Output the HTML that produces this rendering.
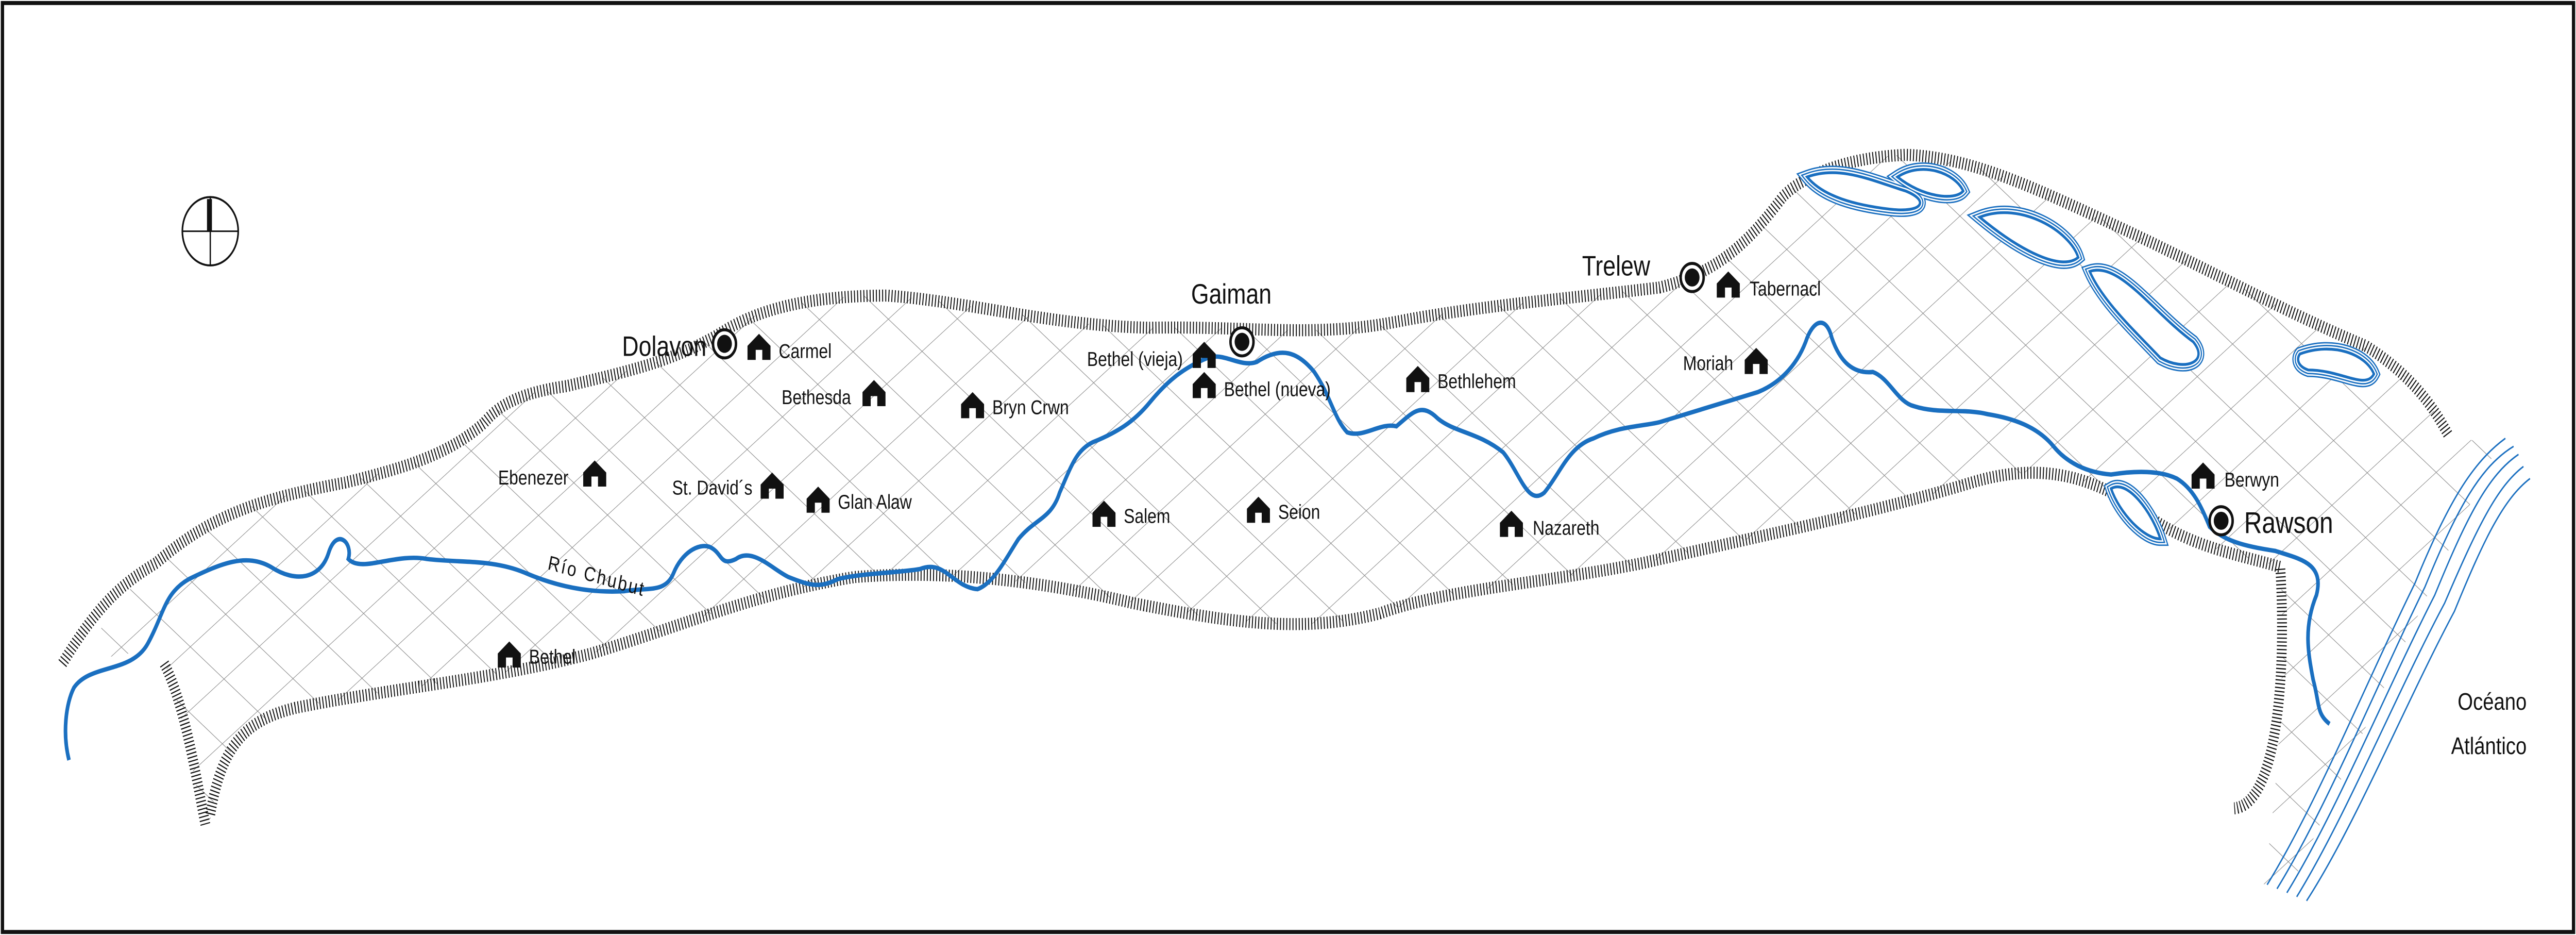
<!DOCTYPE html>
<html><head><meta charset="utf-8"><style>
html,body{margin:0;padding:0;background:#fff;width:100%;height:100%;overflow:hidden}
svg{display:block;position:absolute;left:0;top:0;width:100vw;height:100vh}
text{font-family:"Liberation Sans Narrow","Liberation Sans",sans-serif;fill:#111}
</style></head><body>
<svg viewBox="0 0 1568 465" preserveAspectRatio="none" xmlns="http://www.w3.org/2000/svg">
<defs>
<pattern id="grid" patternUnits="userSpaceOnUse" width="26" height="26" patternTransform="rotate(38) skewX(-15)">
<path d="M0 0H26M0 0V26" stroke="#8a8a8a" stroke-width="0.6" fill="none"/>
</pattern>
<path id="h" d="M-7 6V-1L0-7L7-1V6H2V1H-2V6Z" fill="#111"/>
<g id="lag">
<path d="M1100 88 C1120 82 1140 90 1160 95 C1175 100 1170 106 1150 104 C1130 102 1110 98 1100 88Z"/>
<path d="M1155 88 C1170 80 1190 86 1195 95 C1190 100 1170 98 1155 88Z"/>
<path d="M1205 108 C1230 100 1260 115 1265 128 C1255 135 1230 125 1205 108Z"/>
<path d="M1272 135 C1290 130 1310 155 1335 170 C1345 180 1330 185 1315 178 C1300 165 1280 150 1272 135Z"/>
<path d="M1400 176 C1420 170 1440 176 1445 186 C1440 194 1425 184 1405 184 C1398 182 1398 178 1400 176Z"/>
<path d="M1285 243 C1295 238 1310 255 1315 268 C1305 268 1290 255 1285 243Z"/>
</g>
<clipPath id="vc"><path d="M95 282 C130 255 160 248 210 240 C250 232 275 225 295 210 C305 200 320 195 345 192 C380 185 410 180 440 165 C465 152 500 147 540 147 C590 150 640 162 700 163 C760 162 800 168 850 160 C900 152 960 148 1010 143 C1045 136 1065 120 1085 98 C1100 85 1130 78 1160 77 C1200 78 1240 94 1290 113 C1340 132 1390 155 1440 172 C1465 185 1480 200 1490 216 L1520 222 L1395 440 L1378 440 C1385 400 1392 340 1388 282 C1360 275 1330 272 1300 252 C1270 236 1240 230 1200 240 C1140 255 1080 265 1000 280 C940 290 880 293 840 305 C790 316 740 308 690 300 C640 290 580 283 520 287 C460 295 420 310 360 325 C300 338 240 342 180 352 C150 358 135 370 128 408 C118 400 112 350 100 330 C90 322 75 325 60 328 C55 310 75 295 95 282Z"/></clipPath>
</defs>
<rect x="1.5" y="1.5" width="1565" height="462" fill="#fff" stroke="#111" stroke-width="2"/>
<rect x="0" y="0" width="1568" height="465" fill="url(#grid)" clip-path="url(#vc)"/>
<path d="M38 330 C60 300 75 290 95 280 C130 255 160 248 210 240 C250 232 275 225 295 210 C305 200 320 195 345 192 C380 185 410 180 440 165 C465 152 500 147 540 147 C590 150 640 162 700 163 C760 162 800 168 850 160 C900 152 960 148 1010 143 C1045 136 1065 120 1085 98 C1100 85 1130 78 1160 77 C1200 78 1240 94 1290 113 C1340 132 1390 155 1440 172 C1465 185 1480 200 1490 216" fill="none" stroke="#111" stroke-width="6" stroke-dasharray="0.6 1.3"/>
<path d="M100 330 C112 350 118 380 125 410 M128 405 C135 370 150 358 180 352 C240 342 300 338 360 325 C420 310 460 295 520 287 C580 283 640 290 690 300 C740 308 790 316 840 305 C880 293 940 290 1000 280 C1080 265 1140 255 1200 240 C1240 230 1270 236 1300 252 C1330 272 1360 275 1388 282 C1392 340 1385 400 1360 402" fill="none" stroke="#111" stroke-width="6" stroke-dasharray="0.6 1.3"/>
<g fill="#fff">
<use href="#lag" stroke="#1a6fc0" stroke-width="7"/>
<use href="#lag" stroke="#fff" stroke-width="5.6"/>
<use href="#lag" stroke="#1a6fc0" stroke-width="4.2"/>
<use href="#lag" stroke="#fff" stroke-width="2.8"/>
<use href="#lag" stroke="#1a6fc0" stroke-width="1.4" fill="none"/>
</g>
<g fill="none" stroke="#1a6fc0" stroke-width="0.8">
<path d="M1380 440 C1410 400 1440 340 1470 290 C1490 250 1505 230 1525 218 M1386 442 C1416 402 1446 342 1476 292 C1496 252 1510 232 1530 222 M1392 444 C1422 404 1452 344 1482 296 C1502 256 1515 236 1533 226 M1398 446 C1428 406 1458 346 1488 300 C1508 262 1520 242 1536 232 M1404 448 C1434 410 1464 350 1494 304 C1512 268 1524 248 1540 238"/>
</g>
<path d="M42 378 C38 365 40 350 45 342 C55 330 80 335 90 320 C100 305 100 295 115 288 C135 280 150 275 165 282 C180 290 195 288 200 275 C205 262 215 270 212 278 C220 285 240 275 260 278 C280 280 300 278 320 285 C340 292 360 295 380 294 C395 292 405 295 410 285 C415 275 425 270 432 272 C440 275 438 282 448 278 C458 272 470 283 480 287 C495 292 500 292 510 288 C525 285 545 285 560 283 C575 278 580 292 595 293 C605 290 612 278 620 268 C630 258 640 258 645 245 C652 232 655 224 665 220 C680 215 690 210 700 200 C710 190 720 183 735 178 C745 175 755 183 765 180 C780 172 790 175 800 185 C810 197 812 208 820 215 C830 218 840 210 850 212 C860 205 865 200 875 208 C885 215 900 215 915 225 C925 235 930 252 940 245 C950 235 955 222 970 218 C985 212 1000 212 1010 210 C1030 205 1050 200 1070 195 C1085 190 1095 180 1100 168 C1105 158 1112 158 1115 168 C1120 180 1128 186 1140 185 C1150 188 1155 200 1165 202 C1180 206 1195 203 1210 206 C1225 208 1240 212 1250 222 C1258 230 1270 235 1285 236 C1300 234 1315 234 1325 238 C1335 243 1340 252 1345 262 C1355 270 1370 272 1385 274 C1400 278 1415 280 1410 296 C1402 312 1405 325 1408 338 C1412 350 1410 355 1418 360" fill="none" stroke="#1a6fc0" stroke-width="2.2"/>
<circle cx="128" cy="115" r="17" fill="none" stroke="#111" stroke-width="1"/>
<path d="M111 115H145M128 98V132" stroke="#111" stroke-width="0.8"/>
<rect x="126" y="99" width="3" height="16" fill="#111"/>
<g fill="#111">
<circle cx="441" cy="171" r="7" fill="#fff" stroke="#111" stroke-width="1.5"/><circle cx="441" cy="171" r="4.5"/>
<circle cx="756" cy="170" r="7" fill="#fff" stroke="#111" stroke-width="1.5"/><circle cx="756" cy="170" r="4.5"/>
<circle cx="1030" cy="138" r="7" fill="#fff" stroke="#111" stroke-width="1.5"/><circle cx="1030" cy="138" r="4.5"/>
<circle cx="1352" cy="259" r="7" fill="#fff" stroke="#111" stroke-width="1.5"/><circle cx="1352" cy="259" r="4.5"/>
</g>
<g font-size="14">
<text x="430" y="177" text-anchor="end">Dolavon</text>
<text x="725" y="151">Gaiman</text>
<text x="963" y="137">Trelew</text>
<text x="1366" y="265" font-size="15">Rawson</text>
</g>
<use href="#h" x="462" y="173"/><use href="#h" x="733" y="177"/><use href="#h" x="733" y="192"/>
<use href="#h" x="532" y="196"/><use href="#h" x="592" y="202"/><use href="#h" x="863" y="189"/>
<use href="#h" x="1069" y="180"/><use href="#h" x="1052" y="142"/><use href="#h" x="362" y="236"/>
<use href="#h" x="470" y="242"/><use href="#h" x="498" y="249"/><use href="#h" x="672" y="256"/>
<use href="#h" x="766" y="254"/><use href="#h" x="920" y="261"/><use href="#h" x="310" y="326"/>
<use href="#h" x="1341" y="237"/>
<g font-size="10">
<text x="474" y="178">Carmel</text>
<text x="720" y="182" text-anchor="end">Bethel (vieja)</text>
<text x="745" y="197">Bethel (nueva)</text>
<text x="518" y="201" text-anchor="end">Bethesda</text>
<text x="604" y="206">Bryn Crwn</text>
<text x="875" y="193">Bethlehem</text>
<text x="1055" y="184" text-anchor="end">Moriah</text>
<text x="1065" y="147">Tabernacl</text>
<text x="346" y="241" text-anchor="end">Ebenezer</text>
<text x="458" y="246" text-anchor="end">St. David´s</text>
<text x="510" y="253">Glan Alaw</text>
<text x="684" y="260">Salem</text>
<text x="778" y="258">Seion</text>
<text x="933" y="266">Nazareth</text>
<text x="322" y="330">Bethel</text>
<text x="1354" y="242">Berwyn</text>
<text x="0" y="0" transform="translate(333 283) rotate(13)" letter-spacing="1">Río Chubut</text>
</g>
<g font-size="12">
<text x="1538" y="353" text-anchor="end">Océano</text>
<text x="1538" y="375" text-anchor="end">Atlántico</text>
</g>
</svg>
</body></html>
